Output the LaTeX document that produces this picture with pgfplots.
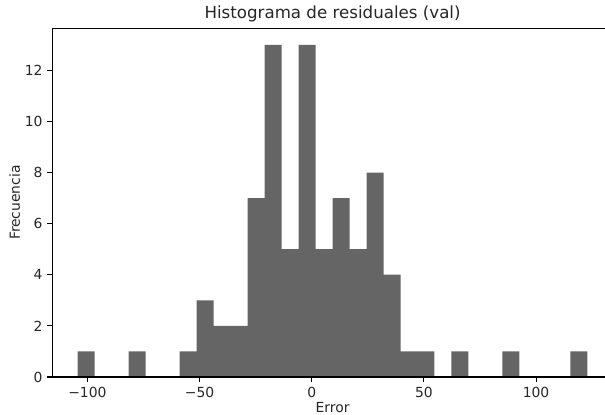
\documentclass[border=0pt]{standalone}
\usepackage{pgfplots}
\pgfplotsset{compat=1.18}
\usepackage{fontspec}
\setmainfont{DejaVu Sans}
\definecolor{barfill}{RGB}{101,101,101}
\definecolor{baredge}{RGB}{150,150,150}
\definecolor{txt}{RGB}{38,38,38}
\begin{document}
\begin{tikzpicture}
\useasboundingbox (-37.6bp,-27.4bp) rectangle (398.0bp,271.4bp);
\begin{axis}[
  at={(0,0)}, anchor=south west,
  scale only axis,
  width=403.7bp, height=251.1bp,
  xmin=-115.66, xmax=134.26,
  ymin=0, ymax=13.65,
  xtick={-100,-50,0,50,100},
  xticklabels={−100,−50,0,50,100},
  ytick={0,2,4,6,8,10,12},
  /pgf/number format/assume math mode=true,
  tick align=outside,
  tick pos=left,
  major tick length=3.5bp,
  every tick/.style={black, line width=0.8bp},
  axis line style={black, line width=0.8bp},
  ticklabel style={font=\fontsize{10bp}{12bp}\selectfont, text=txt},
  xlabel={Error},
  ylabel={Frecuencia},
  label style={font=\fontsize{10bp}{12bp}\selectfont, text=txt},
  xlabel style={yshift=3bp},
  ylabel style={yshift=-3.5bp},
  title={Histograma de residuales (val)},
  title style={font=\fontsize{12bp}{14bp}\selectfont, text=txt, yshift=-5bp},
  axis on top=true,
]
\addplot[ybar interval, fill=barfill, draw=none] coordinates {
(-104.30,1) (-96.73,0) (-89.15,0) (-81.58,1) (-74.01,0) (-66.44,0)
(-58.86,1) (-51.29,3) (-43.72,2) (-36.14,2) (-28.57,7) (-21.00,13)
(-13.42,5) (-5.85,13) (1.72,5) (9.30,7) (16.87,5) (24.44,8)
(32.01,4) (39.59,1) (47.16,1) (54.73,0) (62.31,1) (69.88,0)
(77.45,0) (85.02,1) (92.60,0) (100.17,0) (107.74,0) (115.32,1)
(122.89,1)
};
\end{axis}
\end{tikzpicture}
\end{document}
